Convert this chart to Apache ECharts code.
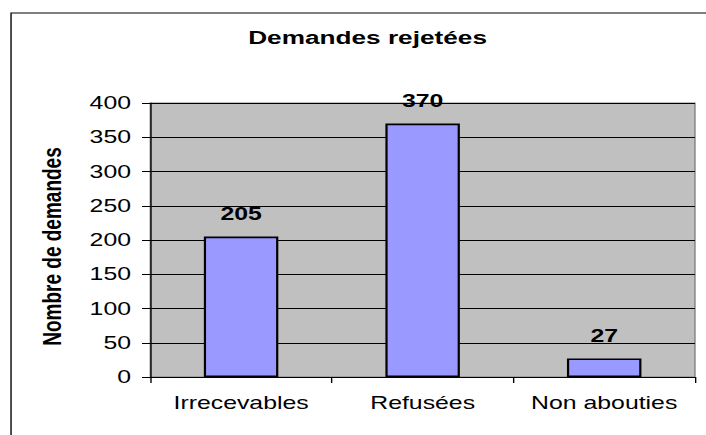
<!DOCTYPE html>
<html>
<head>
<meta charset="utf-8">
<script src="https://cdn.jsdelivr.net/npm/echarts@6/dist/echarts.min.js"></script>
<style>
  html, body { margin: 0; padding: 0; background: #fff; overflow: hidden; width: 706px; height: 435px; }
  #chart { width: 512px; height: 435px; transform: scaleX(1.37890625); transform-origin: 0 0; }
</style>
</head>
<body>
<div id="chart"></div>
<script>
const titleText = 'Demandes rejetées';
const yAxisName = 'Nombre de demandes';
const categories = ['Irrecevables', 'Refusées', 'Non abouties'];
const values = [205, 370, 27];
const yTicks = [0, 50, 100, 150, 200, 250, 300, 350, 400];

const FONT = '"Liberation Sans", Arial, sans-serif';
const chart = echarts.init(document.getElementById('chart'), null, { renderer: 'svg' });
chart.setOption({
  animation: false,
  backgroundColor: '#ffffff',
  title: {
    text: titleText,
    left: 180,
    top: 28,
    padding: 0,
    textStyle: { fontFamily: FONT, fontSize: 19, fontWeight: 'bold', color: '#000' }
  },
  graphic: [{
    type: 'rect',
    shape: { x: 8, y: 13, width: 700, height: 600 },
    style: { fill: 'none', stroke: '#000', lineWidth: 1 },
    silent: true,
    z: -1
  }],
  grid: {
    left: 109, right: 8, top: 103, bottom: 58,
    show: true,
    backgroundColor: '#C0C0C0',
    borderColor: '#808080',
    borderWidth: 1
  },
  xAxis: {
    type: 'category',
    data: categories,
    axisLine: { show: true, lineStyle: { color: '#000', width: 1 } },
    axisTick: { show: true, length: 6, lineStyle: { color: '#000' } },
    axisLabel: { interval: 0, hideOverlap: false, margin: 17, fontFamily: FONT, fontSize: 18, color: '#000' },
    splitLine: { show: false }
  },
  yAxis: {
    type: 'value',
    min: yTicks[0],
    max: yTicks[yTicks.length - 1],
    interval: yTicks[1] - yTicks[0],
    name: yAxisName,
    nameLocation: 'middle',
    nameGap: 62,
    nameTextStyle: { fontFamily: FONT, fontSize: 19, fontWeight: 'bold', color: '#000', padding: [0, 13, 0, 0] },
    axisLine: { show: true, lineStyle: { color: '#000', width: 1 } },
    axisTick: { show: true, length: 6, lineStyle: { color: '#000' } },
    axisLabel: { margin: 14, fontFamily: FONT, fontSize: 18, color: '#000' },
    splitLine: { show: true, lineStyle: { color: '#000', width: 1 } }
  },
  series: [{
    type: 'bar',
    data: values,
    barWidth: 54,
    itemStyle: { color: '#9999FF', borderColor: '#000', borderWidth: 1.6 },
    label: {
      show: true,
      position: 'top',
      distance: 14,
      fontFamily: FONT,
      fontSize: 18,
      fontWeight: 'bold',
      color: '#000'
    }
  }]
});
</script>
</body>
</html>
